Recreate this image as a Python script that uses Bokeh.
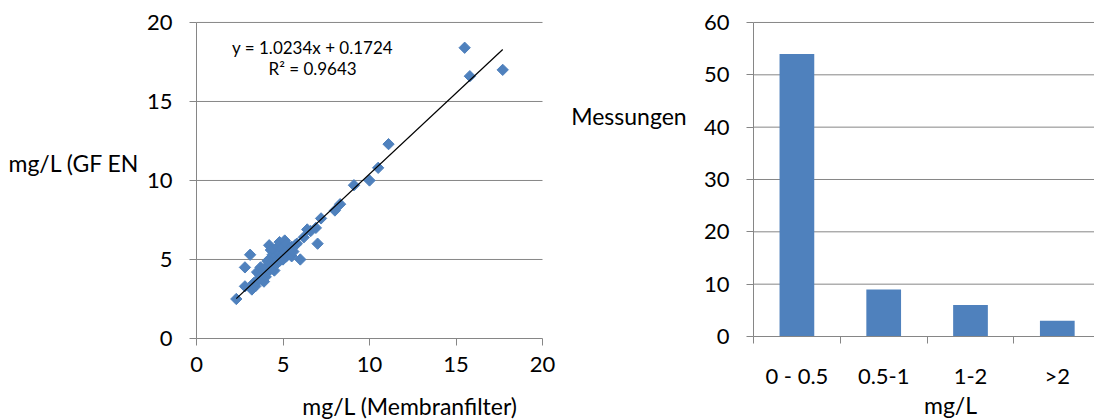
import math
from bokeh.plotting import figure
from bokeh.layouts import row
from bokeh.models import Label, FixedTicker, Range1d
from bokeh.embed import file_html
from bokeh.resources import INLINE

# ---- data ----
membranfilter = [2.3, 2.8, 2.8, 3.1, 3.2, 3.3, 3.4, 3.5, 3.5, 3.6, 3.7, 3.7, 3.8, 3.9, 3.9,
                 4.0, 4.0, 4.1, 4.1, 4.2, 4.2, 4.3, 4.3, 4.3, 4.4, 4.4, 4.5, 4.5, 4.5, 4.6,
                 4.6, 4.7, 4.7, 4.8, 4.8, 4.8, 4.9, 4.9, 5.0, 5.0, 5.1, 5.1, 5.2, 5.2, 5.3,
                 5.4, 5.5, 5.5, 5.6, 5.7, 5.8, 6.0, 6.2, 6.4, 6.6, 6.9, 7.0, 7.2, 8.0, 8.3,
                 9.1, 10.0, 10.5, 11.1, 15.5, 15.8, 17.7]
gf_en = [2.5, 3.3, 4.5, 5.3, 3.1, 3.5, 3.3, 3.6, 4.2, 3.8, 4.0, 4.5, 3.7, 4.3, 3.6,
         3.9, 4.5, 4.2, 4.9, 5.0, 5.9, 4.4, 4.8, 5.6, 4.6, 5.3, 4.9, 5.6, 4.3, 4.7,
         5.2, 5.0, 5.8, 5.4, 4.9, 6.1, 5.1, 5.7, 5.3, 5.0, 5.5, 6.2, 5.2, 6.0, 5.6,
         5.4, 5.8, 5.2, 5.5, 5.9, 6.0, 5.0, 6.4, 6.9, 6.8, 7.0, 6.0, 7.6, 8.1, 8.5,
         9.7, 10.0, 10.8, 12.3, 18.4, 16.6, 17.0]
slope = 1.0234
intercept = 0.1724
r_squared = 0.9643
scatter_ticks = [0, 5, 10, 15, 20]

bins = ["0 - 0.5", "0.5-1", "1-2", ">2"]
counts = [54, 9, 6, 3]
count_ticks = [0, 10, 20, 30, 40, 50, 60]

FONT = "Lato"
BLUE = "#4F81BD"
GRAY = "#868686"
TICK_SIZE = "22px"
TITLE_SIZE = "23px"


def make_fig(width, x_range, y_range):
    p = figure(width=width, height=420, x_range=x_range, y_range=y_range,
               output_backend="svg", toolbar_location=None,
               min_border_left=0, min_border_right=0, min_border_top=0, min_border_bottom=0)
    p.xgrid.visible = False
    p.ygrid.visible = False
    p.outline_line_color = None
    for ax in (p.xaxis[0], p.yaxis[0]):
        ax.axis_line_color = GRAY
        ax.major_tick_line_color = GRAY
        ax.minor_tick_line_color = GRAY
        ax.major_tick_in = 0
        ax.major_tick_out = 7
        ax.minor_tick_in = 0
        ax.minor_tick_out = 0
        ax.major_label_text_font = FONT
        ax.major_label_text_font_size = TICK_SIZE
        ax.major_label_text_color = "#000000"
    p.xaxis.major_label_standoff = 12
    p.yaxis.major_label_standoff = 17
    return p


def text_label(p, x, y, text, align, size):
    p.add_layout(Label(x=x, y=y, text=text, text_align=align, text_baseline="middle",
                       text_font=FONT, text_font_size=size, text_color="#000000"))


# ---- scatter (frame fills the canvas; axes are pinned inside it) ----
p1 = make_fig(560, Range1d(-11.33, 21.04), Range1d(-5.19, 21.39))
p1.xaxis.fixed_location = 0
p1.yaxis.fixed_location = 0
p1.xaxis.bounds = (0, 20)
p1.yaxis.bounds = (0, 20)
p1.xaxis.ticker = FixedTicker(ticks=scatter_ticks, minor_ticks=[])
p1.yaxis.ticker = FixedTicker(ticks=scatter_ticks, minor_ticks=[])
grid_y = [t for t in scatter_ticks if t > 0]
p1.segment(x0=[scatter_ticks[0]] * len(grid_y), x1=[scatter_ticks[-1]] * len(grid_y),
           y0=grid_y, y1=grid_y, line_color=GRAY, line_width=1)

p1.scatter(membranfilter, gf_en, marker="square", size=8, angle=math.pi / 4,
           fill_color=BLUE, line_color=BLUE)
x0, x1 = min(membranfilter), max(membranfilter)
p1.line([x0, x1], [slope * x0 + intercept, slope * x1 + intercept],
        line_color="black", line_width=1.2)

text_label(p1, 6.71, 18.42, f"y = {slope}x + {intercept}", "center", "17px")
text_label(p1, 6.71, 17.09, f"R² = {r_squared}", "center", "17px")
text_label(p1, 12.34, -4.25, "mg/L (Membranfilter)", "center", TITLE_SIZE)
text_label(p1, -10.87, 11.1, "mg/L (GF EN", "left", TITLE_SIZE)

# ---- histogram ----
p2 = make_fig(534, Range1d(-2.7235, 3.4286), Range1d(-16.05, 64.2))
pos = list(range(len(bins)))
p2.xaxis.fixed_location = 0
p2.yaxis.fixed_location = -0.5
p2.xaxis.bounds = (-0.5, len(bins) - 0.5)
p2.yaxis.bounds = (count_ticks[0], count_ticks[-1])
p2.xaxis.ticker = FixedTicker(ticks=pos, minor_ticks=[i - 0.5 for i in pos])
p2.xaxis.major_label_overrides = {i: b for i, b in zip(pos, bins)}
p2.xaxis.major_tick_out = 0
p2.xaxis.minor_tick_out = 7
p2.xaxis.major_label_standoff = 18
p2.yaxis.ticker = FixedTicker(ticks=count_ticks, minor_ticks=[])
grid_c = [t for t in count_ticks if t > 0]
p2.segment(x0=[-0.5] * len(grid_c), x1=[len(bins) - 0.5] * len(grid_c),
           y0=grid_c, y1=grid_c, line_color=GRAY, line_width=1)
p2.vbar(x=pos, top=counts, width=0.4, fill_color=BLUE, line_color=None)

text_label(p2, 1.77, -13.0, "mg/L", "center", TITLE_SIZE)
text_label(p2, -2.6, 42.2, "Messungen", "left", TITLE_SIZE)

layout = row(p1, p2)
open("out.html", "w").write(file_html(layout, INLINE))
